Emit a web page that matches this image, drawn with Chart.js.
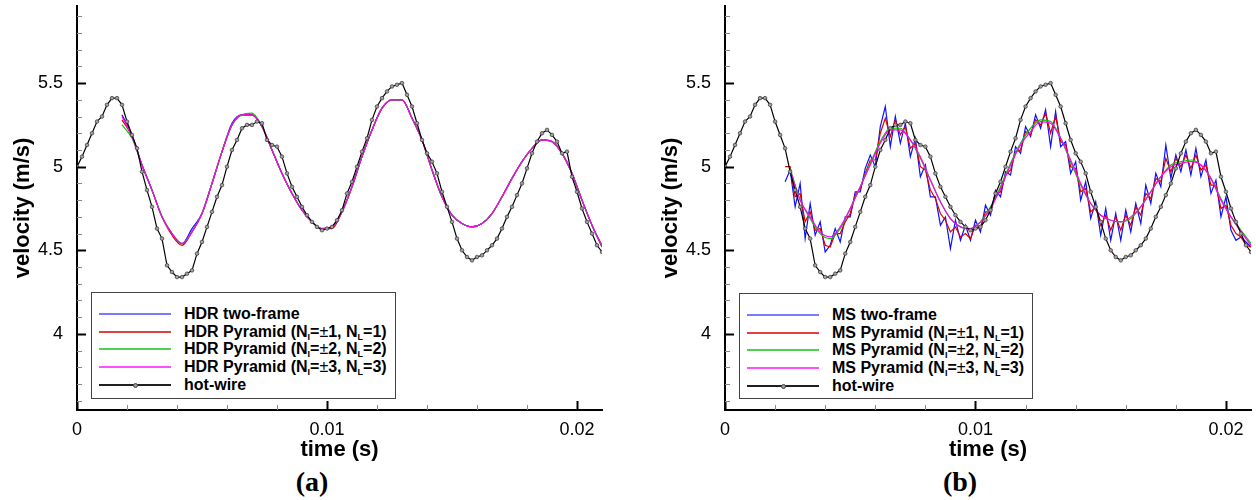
<!DOCTYPE html>
<html>
<head>
<meta charset="utf-8">
<script src="https://cdn.jsdelivr.net/npm/chart.js@4.4.1/dist/chart.umd.min.js"></script>
<style>
  body { margin:0; background:#fff; width:1256px; height:500px; position:relative; overflow:hidden; font-family:"Liberation Sans", Arial, sans-serif; }
  canvas { position:absolute; top:0; }
  .legend { position:absolute; border:1px solid #444; background:#fff; box-sizing:border-box; font-weight:bold; font-size:16px; color:#000; }
  .row { position:absolute; left:0; right:0; height:18px; line-height:18px; white-space:nowrap; }
  .sample { position:absolute; left:7px; width:72px; top:8px; height:2px; }
  .dot { position:absolute; left:41px; top:7px; width:5px; height:5px; border-radius:50%; background:#999; border:1px solid #444; box-sizing:border-box; }
  .txt { position:absolute; left:92px; top:0; }
  .txt sub { font-size:9px; vertical-align:-3px; line-height:0; }
  .pm { font-weight:normal; }
  .cap { position:absolute; top:466px; font-family:"Liberation Serif", "Times New Roman", serif; font-weight:bold; font-size:28px; transform:translateX(-50%); }
</style>
</head>
<body>
<canvas id="chartA" width="628" height="463" style="left:0px"></canvas>
<canvas id="chartB" width="608" height="463" style="left:648px"></canvas>
<div id="legA" class="legend" style="left:91px;top:292px;width:305px;height:107px"></div>
<div id="legB" class="legend" style="left:739px;top:293px;width:294px;height:106px"></div>
<div class="cap" style="left:312px">(a)</div>
<div class="cap" style="left:960px">(b)</div>
<script>
// Data: time (s) and velocity (m/s)
const TIME_HW = [
  0, 0.0002, 0.0004, 0.0006, 0.0008, 0.001, 0.0012, 0.0014, 0.0016, 0.0018,
  0.002, 0.0022, 0.0024, 0.0026, 0.0028, 0.003, 0.0032, 0.0034, 0.0036, 0.0038,
  0.004, 0.0042, 0.0044, 0.0046, 0.0048, 0.005, 0.0052, 0.0054, 0.0056, 0.0058,
  0.006, 0.0062, 0.0064, 0.0066, 0.0068, 0.007, 0.0072, 0.0074, 0.0076, 0.0078,
  0.008, 0.0082, 0.0084, 0.0086, 0.0088, 0.009, 0.0092, 0.0094, 0.0096, 0.0098,
  0.01, 0.0102, 0.0104, 0.0106, 0.0108, 0.011, 0.0112, 0.0114, 0.0116, 0.0118,
  0.012, 0.0122, 0.0124, 0.0126, 0.0128, 0.013, 0.0132, 0.0134, 0.0136, 0.0138,
  0.014, 0.0142, 0.0144, 0.0146, 0.0148, 0.015, 0.0152, 0.0154, 0.0156, 0.0158,
  0.016, 0.0162, 0.0164, 0.0166, 0.0168, 0.017, 0.0172, 0.0174, 0.0176, 0.0178,
  0.018, 0.0182, 0.0184, 0.0186, 0.0188, 0.019, 0.0192, 0.0194, 0.0196, 0.0198,
  0.02, 0.0202, 0.0204, 0.0206, 0.0208, 0.021
];
const HOT_WIRE = [
  5.00, 5.06, 5.13, 5.20, 5.27, 5.30, 5.37, 5.41, 5.41, 5.37,
  5.27, 5.19, 5.11, 4.97, 4.86, 4.76, 4.63, 4.57, 4.41, 4.37,
  4.34, 4.34, 4.36, 4.38, 4.48, 4.55, 4.64, 4.73, 4.82, 4.89,
  5.00, 5.10, 5.16, 5.23, 5.25, 5.25, 5.27, 5.26, 5.16, 5.13,
  5.12, 5.06, 4.96, 4.88, 4.82, 4.76, 4.71, 4.67, 4.64, 4.62,
  4.63, 4.64, 4.68, 4.74, 4.84, 4.91, 5.00, 5.09, 5.17, 5.28,
  5.36, 5.41, 5.45, 5.48, 5.49, 5.50, 5.43, 5.36, 5.26, 5.16,
  5.08, 5.03, 4.96, 4.85, 4.76, 4.67, 4.57, 4.50, 4.46, 4.44,
  4.46, 4.47, 4.50, 4.53, 4.57, 4.63, 4.70, 4.76, 4.83, 4.90,
  4.99, 5.08, 5.15, 5.20, 5.22, 5.19, 5.15, 5.08, 5.09, 4.94,
  4.85, 4.75, 4.67, 4.60, 4.53, 4.49
];

// (a) HDR estimates
const TIME_HDR = [
  0.0018, 0.0022, 0.0026, 0.003, 0.0034, 0.0038, 0.0042, 0.0046, 0.005, 0.0054,
  0.0058, 0.0062, 0.0066, 0.007, 0.0074, 0.0078, 0.0082, 0.0086, 0.009, 0.0094,
  0.0098, 0.0102, 0.0106, 0.011, 0.0114, 0.0118, 0.0122, 0.0126, 0.013, 0.0134,
  0.0138, 0.0142, 0.0146, 0.015, 0.0154, 0.0158, 0.0162, 0.0166, 0.017, 0.0174,
  0.0178, 0.0182, 0.0186, 0.019, 0.0194, 0.0198, 0.0202, 0.0206, 0.021
];
const HDR_TWO_FRAME = [
  5.31, 5.19, 5.01, 4.86, 4.70, 4.60, 4.54, 4.63, 4.72, 4.90,
  5.09, 5.26, 5.31, 5.31, 5.24, 5.10, 4.96, 4.84, 4.74, 4.67,
  4.63, 4.64, 4.73, 4.88, 5.06, 5.22, 5.35, 5.40, 5.40, 5.29,
  5.16, 4.98, 4.82, 4.71, 4.66, 4.64, 4.66, 4.72, 4.82, 4.93,
  5.03, 5.11, 5.16, 5.15, 5.08, 4.96, 4.80, 4.65, 4.52
];
const HDR_PYR1 = [
  5.28, 5.18, 5.01, 4.86, 4.70, 4.59, 4.53, 4.61, 4.72, 4.90,
  5.09, 5.25, 5.31, 5.31, 5.24, 5.10, 4.96, 4.84, 4.74, 4.67,
  4.63, 4.63, 4.73, 4.88, 5.06, 5.22, 5.35, 5.40, 5.40, 5.29,
  5.16, 4.98, 4.82, 4.71, 4.66, 4.64, 4.66, 4.72, 4.82, 4.93,
  5.03, 5.11, 5.16, 5.15, 5.08, 4.96, 4.80, 4.65, 4.53
];
const HDR_PYR2 = [
  5.25, 5.17, 5.01, 4.86, 4.70, 4.60, 4.54, 4.61, 4.72, 4.90,
  5.09, 5.25, 5.31, 5.32, 5.24, 5.10, 4.96, 4.84, 4.74, 4.67,
  4.63, 4.64, 4.73, 4.88, 5.06, 5.22, 5.35, 5.40, 5.40, 5.29,
  5.16, 4.98, 4.82, 4.71, 4.66, 4.64, 4.66, 4.72, 4.82, 4.93,
  5.03, 5.11, 5.16, 5.15, 5.08, 4.96, 4.80, 4.65, 4.52
];
const HDR_PYR3 = [
  5.30, 5.18, 5.01, 4.86, 4.70, 4.60, 4.54, 4.61, 4.72, 4.90,
  5.09, 5.25, 5.31, 5.31, 5.24, 5.10, 4.96, 4.84, 4.74, 4.67,
  4.63, 4.64, 4.73, 4.88, 5.06, 5.22, 5.35, 5.40, 5.40, 5.29,
  5.16, 4.98, 4.82, 4.71, 4.66, 4.64, 4.66, 4.72, 4.82, 4.93,
  5.03, 5.11, 5.16, 5.15, 5.08, 4.96, 4.80, 4.65, 4.52
];

// (b) MS estimates
const TIME_MS = TIME_HW.slice(12);
const MS_TWO_FRAME = [
  4.91, 4.98, 4.76, 4.90, 4.57, 4.78, 4.59, 4.67, 4.49, 4.53,
  4.63, 4.55, 4.70, 4.70, 4.85, 4.85, 4.99, 5.07, 5.00, 5.24,
  5.36, 5.12, 5.30, 5.14, 5.26, 5.06, 5.17, 4.94, 5.01, 4.82,
  4.82, 4.65, 4.70, 4.51, 4.68, 4.56, 4.65, 4.56, 4.68, 4.61,
  4.77, 4.71, 4.86, 4.82, 4.97, 4.95, 5.12, 5.08, 5.24, 5.18,
  5.31, 5.23, 5.34, 5.12, 5.33, 5.12, 5.15, 4.96, 5.03, 4.80,
  4.91, 4.69, 4.79, 4.59, 4.75, 4.56, 4.72, 4.56, 4.74, 4.61,
  4.78, 4.66, 4.89, 4.78, 4.96, 4.88, 5.13, 4.93, 5.07, 4.97,
  5.10, 4.95, 5.11, 4.94, 5.04, 4.84, 4.92, 4.70, 4.82, 4.62,
  4.56, 4.58, 4.55, 4.52
];
const MS_PYR1 = [
  5.00, 5.00, 4.82, 4.84, 4.67, 4.73, 4.62, 4.63, 4.53, 4.52,
  4.60, 4.60, 4.67, 4.72, 4.83, 4.87, 4.96, 5.04, 5.04, 5.20,
  5.29, 5.18, 5.28, 5.19, 5.24, 5.11, 5.14, 5.00, 4.98, 4.86,
  4.81, 4.72, 4.68, 4.61, 4.64, 4.58, 4.60, 4.57, 4.65, 4.64,
  4.73, 4.73, 4.83, 4.85, 4.95, 4.98, 5.09, 5.10, 5.21, 5.19,
  5.28, 5.25, 5.32, 5.20, 5.30, 5.15, 5.13, 5.00, 4.99, 4.85,
  4.87, 4.73, 4.76, 4.65, 4.71, 4.62, 4.70, 4.62, 4.71, 4.65,
  4.76, 4.71, 4.84, 4.81, 4.93, 4.91, 5.05, 4.97, 5.05, 5.00,
  5.07, 4.99, 5.07, 4.98, 5.01, 4.89, 4.89, 4.75, 4.77, 4.65,
  4.60, 4.58, 4.53, 4.52
];
const TIME_MS_SMOOTH = [
  0.0026, 0.003, 0.0034, 0.0038, 0.0042, 0.0046, 0.005, 0.0054, 0.0058, 0.0062,
  0.0066, 0.007, 0.0074, 0.0078, 0.0082, 0.0086, 0.009, 0.0094, 0.0098, 0.0102,
  0.0106, 0.011, 0.0114, 0.0118, 0.0122, 0.0126, 0.013, 0.0134, 0.0138, 0.0142,
  0.0146, 0.015, 0.0154, 0.0158, 0.0162, 0.0166, 0.017, 0.0174, 0.0178, 0.0182,
  0.0186, 0.019, 0.0194, 0.0198, 0.0202, 0.0206, 0.021
];
const MS_PYR2 = [
  4.99, 4.80, 4.69, 4.60, 4.57, 4.63, 4.75, 4.88, 5.02, 5.15,
  5.23, 5.23, 5.16, 5.05, 4.92, 4.79, 4.69, 4.64, 4.63, 4.67,
  4.76, 4.88, 5.02, 5.14, 5.23, 5.28, 5.27, 5.17, 5.03, 4.89,
  4.78, 4.71, 4.68, 4.67, 4.69, 4.76, 4.85, 4.94, 5.01, 5.03,
  5.04, 5.01, 4.93, 4.81, 4.70, 4.62, 4.54
];
const MS_PYR3 = [
  4.98, 4.80, 4.70, 4.61, 4.58, 4.64, 4.75, 4.88, 5.01, 5.14,
  5.22, 5.22, 5.16, 5.06, 4.92, 4.79, 4.69, 4.64, 4.63, 4.67,
  4.75, 4.87, 5.01, 5.13, 5.21, 5.27, 5.26, 5.17, 5.04, 4.90,
  4.78, 4.71, 4.68, 4.67, 4.70, 4.76, 4.85, 4.94, 5.00, 5.02,
  5.03, 5.01, 4.93, 4.80, 4.70, 4.61, 4.53
];

const LABELS_A = ['HDR two-frame', 'HDR Pyramid (N<sub>I</sub>=<span class="pm">±</span>1, N<sub>L</sub>=1)',
  'HDR Pyramid (N<sub>I</sub>=<span class="pm">±</span>2, N<sub>L</sub>=2)', 'HDR Pyramid (N<sub>I</sub>=<span class="pm">±</span>3, N<sub>L</sub>=3)', 'hot-wire'];
const LABELS_B = ['MS two-frame', 'MS Pyramid (N<sub>I</sub>=<span class="pm">±</span>1, N<sub>L</sub>=1)',
  'MS Pyramid (N<sub>I</sub>=<span class="pm">±</span>2, N<sub>L</sub>=2)', 'MS Pyramid (N<sub>I</sub>=<span class="pm">±</span>3, N<sub>L</sub>=3)', 'hot-wire'];
const COLORS = ['#1010ff', '#dd0000', '#00c800', '#ff00ff', '#000000'];
const LEGEND_COLORS = ['#7a7aff', '#e04040', '#50d050', '#ff50ff', '#202020'];

const FONT = '"Liberation Sans", Arial, sans-serif';

function pts(xs, ys) {
  return xs.map((x, i) => ({ x: x, y: ys[i] }));
}

function xLabel(v) {
  const k = v / 0.01;
  return Math.abs(k - Math.round(k)) < 1e-6 ? String(Math.round(k) / 100) : '';
}
function yLabel(v) {
  const k = v * 2;
  return Math.abs(k - Math.round(k)) < 1e-6 ? String(Math.round(k) / 2) : '';
}

// tecplot style ticks pointing into the plot
const innerTicks = {
  id: 'innerTicks',
  afterDraw(chart) {
    const ctx = chart.ctx, a = chart.chartArea;
    const sx = chart.scales.x, sy = chart.scales.y;
    ctx.save();
    sx.ticks.forEach(t => {
      const p = Math.round(sx.getPixelForValue(t.value)) + 0.5;
      const major = t.label !== '';
      ctx.strokeStyle = major ? '#000' : '#888';
      ctx.lineWidth = major ? 2 : 1;
      ctx.beginPath(); ctx.moveTo(p, a.bottom); ctx.lineTo(p, a.bottom - (major ? 9 : 5)); ctx.stroke();
    });
    sy.ticks.forEach(t => {
      const p = Math.round(sy.getPixelForValue(t.value)) + 0.5;
      const major = t.label !== '';
      ctx.strokeStyle = major ? '#000' : '#888';
      ctx.lineWidth = major ? 2 : 1;
      ctx.beginPath(); ctx.moveTo(a.left, p); ctx.lineTo(a.left + (major ? 9 : 5), p); ctx.stroke();
    });
    ctx.restore();
  }
};

function lineSet(label, data, color, smooth) {
  return {
    label: label, data: data, borderColor: color, backgroundColor: color,
    borderWidth: 1.2, pointRadius: 0, tension: 0,
    cubicInterpolationMode: smooth ? 'monotone' : 'default'
  };
}

function hotWireSet(label) {
  return {
    label: label, data: pts(TIME_HW, HOT_WIRE), borderColor: '#000', borderWidth: 1.2,
    pointRadius: 1.8, pointBackgroundColor: '#a0a0a0', pointBorderColor: '#333', pointBorderWidth: 0.7, tension: 0
  };
}

function makeChart(id, datasets, padRight) {
  new Chart(document.getElementById(id), {
    type: 'line',
    data: { datasets: datasets },
    plugins: [innerTicks],
    options: {
      responsive: false,
      animation: false,
      events: [],
      layout: { padding: { top: 6, right: padRight, left: 0, bottom: 0 } },
      plugins: { legend: { display: false }, tooltip: { enabled: false } },
      scales: {
        x: {
          type: 'linear', min: 0, max: 0.021,
          afterFit: s => { s.height = 53; s.paddingLeft = 0; s.paddingRight = 0; },
          grid: { display: false },
          border: { display: true, color: '#000', width: 2 },
          ticks: { stepSize: 0.002, maxTicksLimit: 100, includeBounds: false, autoSkip: false, maxRotation: 0,
                   padding: 1, color: '#000', font: { family: FONT, size: 18 }, callback: xLabel },
          title: { display: true, text: 'time (s)', color: '#000', padding: { top: 0, bottom: 0 },
                   font: { family: FONT, size: 22, weight: 'bold' } }
        },
        y: {
          type: 'linear', min: 3.545, max: 5.961,
          afterFit: s => { s.width = 77; s.paddingTop = 0; s.paddingBottom = 0; },
          grid: { display: false },
          border: { display: true, color: '#000', width: 2 },
          ticks: { stepSize: 0.1, maxTicksLimit: 100, includeBounds: false, autoSkip: false,
                   padding: 6, color: '#000', font: { family: FONT, size: 18 }, callback: yLabel },
          title: { display: true, text: 'velocity (m/s)', color: '#000', padding: { top: 10, bottom: 0 },
                   font: { family: FONT, size: 22, weight: 'bold' } }
        }
      }
    }
  });
}

function makeLegend(id, labels) {
  const box = document.getElementById(id);
  box.innerHTML = labels.map((l, i) =>
    '<div class="row" style="top:' + (12 + Math.round(i * 17.7)) + 'px"><i class="sample" style="background:' + LEGEND_COLORS[i] + '"></i>' +
    (i === 4 ? '<b class="dot"></b>' : '') + '<span class="txt">' + l + '</span></div>').join('');
}

makeChart('chartA', [
  hotWireSet('hot-wire'),
  lineSet('pyr3', pts(TIME_HDR, HDR_PYR3), COLORS[3], true),
  lineSet('pyr2', pts(TIME_HDR, HDR_PYR2), COLORS[2], true),
  lineSet('pyr1', pts(TIME_HDR, HDR_PYR1), COLORS[1], true),
  lineSet('two', pts(TIME_HDR, HDR_TWO_FRAME), COLORS[0], true)
], 26);

makeChart('chartB', [
  hotWireSet('hot-wire'),
  lineSet('pyr3', pts(TIME_MS_SMOOTH, MS_PYR3), COLORS[3], true),
  lineSet('pyr2', pts(TIME_MS_SMOOTH, MS_PYR2), COLORS[2], true),
  lineSet('pyr1', pts(TIME_MS, MS_PYR1), COLORS[1], false),
  lineSet('two', pts(TIME_MS, MS_TWO_FRAME), COLORS[0], false)
], 5);

makeLegend('legA', LABELS_A);
makeLegend('legB', LABELS_B);
</script>
</body>
</html>
